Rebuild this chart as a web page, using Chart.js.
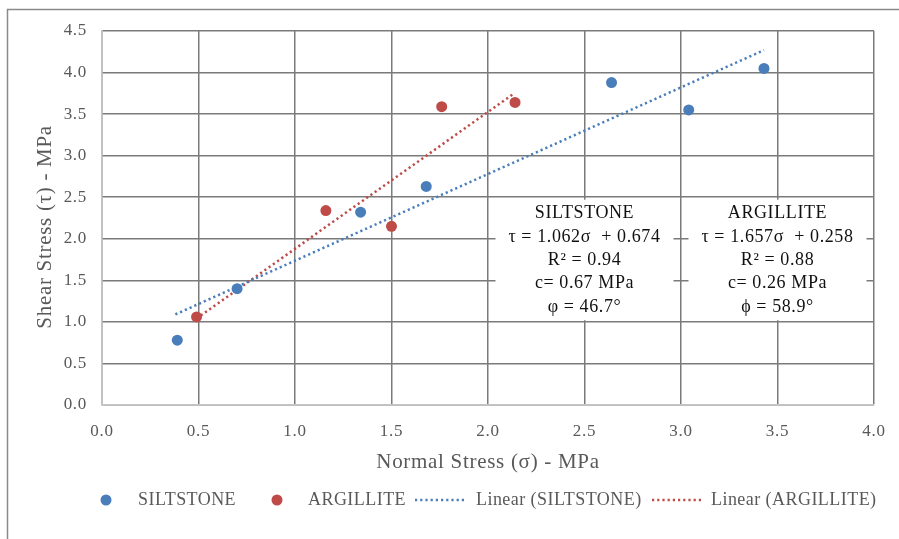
<!DOCTYPE html>
<html>
<head>
<meta charset="utf-8">
<script src="https://cdn.jsdelivr.net/npm/chart.js@4/dist/chart.umd.min.js"></script>
<style>
  html, body { margin: 0; padding: 0; background: #fff; }
  #wrap { width: 899px; height: 539px; position: relative; }
</style>
</head>
<body>
<div id="wrap"><canvas id="c" width="899" height="539"></canvas></div>
<script>
// ---- data ----
const siltX = [0.39, 0.70, 1.34, 1.68, 2.64, 3.04, 3.43];
const siltY = [0.78, 1.40, 2.32, 2.63, 3.88, 3.55, 4.05];
const argX = [0.49, 1.16, 1.50, 1.76, 2.14];
const argY = [1.06, 2.34, 2.15, 3.59, 3.64];
const trendSiltX = [0.38, 3.43];
const trendSiltY = [1.09, 4.27];
const trendArgX = [0.49, 2.13];
const trendArgY = [1.04, 3.74];
const seriesNames = ['SILTSTONE', 'ARGILLITE', 'Linear (SILTSTONE)', 'Linear (ARGILLITE)'];
const siltNote = ['SILTSTONE', 'τ = 1.062σ  + 0.674', 'R² = 0.94', 'c= 0.67 MPa', 'φ = 46.7°'];
const argNote = ['ARGILLITE', 'τ = 1.657σ  + 0.258', 'R² = 0.88', 'c= 0.26 MPa', 'ϕ = 58.9°'];
const xTicks = [0, 0.5, 1.0, 1.5, 2.0, 2.5, 3.0, 3.5, 4.0];
const yTicks = [0, 0.5, 1.0, 1.5, 2.0, 2.5, 3.0, 3.5, 4.0, 4.5];
const xTitle = 'Normal Stress (σ) - MPa';
const yTitle = 'Shear Stress (τ) - MPa';

const BLUE = '#4a7ebb';
const RED = '#be4b48';
const GRID = '#7a7a7a';
const SERIF = '"Liberation Serif", "DejaVu Serif", serif';
const zip = (xs, ys) => xs.map((x, i) => ({ x, y: ys[i] }));

const spacingPlugin = {
  id: 'spacing',
  beforeUpdate(chart) { chart.ctx.letterSpacing = '0.7px'; },
  beforeDraw(chart) { chart.ctx.letterSpacing = '0.7px'; }
};

const framePlugin = {
  id: 'frame',
  beforeDraw(chart) {
    const ctx = chart.ctx;
    ctx.save();
    ctx.fillStyle = '#fff';
    ctx.fillRect(0, 0, chart.width, chart.height);
    ctx.strokeStyle = '#8a8a8a';
    ctx.lineWidth = 1.5;
    ctx.strokeRect(7.5, 9.5, 1000, 1000);
    ctx.restore();
  }
};

function drawNote(chart, lines, cx) {
  const { ctx, scales: { x, y } } = chart;
  const px = x.getPixelForValue(cx);
  const top = y.getPixelForValue(2.47);
  const bottom = y.getPixelForValue(1.02);
  ctx.save();
  ctx.fillStyle = '#fff';
  ctx.fillRect(px - 89, top, 178, bottom - top);
  ctx.fillStyle = '#111';
  ctx.font = '18px ' + SERIF;
  ctx.textAlign = 'center';
  ctx.textBaseline = 'middle';
  ctx.letterSpacing = '0.6px';
  lines.forEach((t, i) => ctx.fillText(t, px, top + 14 + i * 23.3));
  ctx.restore();
}

const notePlugin = {
  id: 'notes',
  beforeDatasetsDraw(chart) {
    drawNote(chart, siltNote, 2.5);
    drawNote(chart, argNote, 3.5);
  }
};

const legendPlugin = {
  id: 'customLegend',
  afterDraw(chart) {
    const ctx = chart.ctx;
    const ds = chart.data.datasets;
    const yc = 500;
    ctx.save();
    ctx.font = '18px ' + SERIF;
    ctx.letterSpacing = '0.45px';
    ctx.textBaseline = 'middle';
    const items = [
      { kind: 'dot', x0: 106, tx: 138 },
      { kind: 'dot', x0: 277, tx: 308 },
      { kind: 'line', x0: 415, x1: 467, tx: 476 },
      { kind: 'line', x0: 652, x1: 703, tx: 711 }
    ];
    items.forEach((it, i) => {
      const d = ds[i];
      if (it.kind === 'dot') {
        ctx.beginPath();
        ctx.arc(it.x0, yc, 5.5, 0, Math.PI * 2);
        ctx.fillStyle = d.backgroundColor;
        ctx.fill();
      } else {
        ctx.beginPath();
        ctx.setLineDash(d.borderDash);
        ctx.lineWidth = d.borderWidth;
        ctx.strokeStyle = d.borderColor;
        ctx.moveTo(it.x0, yc);
        ctx.lineTo(it.x1, yc);
        ctx.stroke();
        ctx.setLineDash([]);
      }
      ctx.fillStyle = '#595959';
      ctx.fillText(d.label, it.tx, yc);
    });
    ctx.restore();
  }
};

new Chart(document.getElementById('c'), {
  type: 'scatter',
  data: {
    datasets: [
      { label: seriesNames[0], data: zip(siltX, siltY), backgroundColor: BLUE, borderColor: BLUE,
        pointRadius: 5.5, pointBorderWidth: 0, showLine: false, order: 1 },
      { label: seriesNames[1], data: zip(argX, argY), backgroundColor: RED, borderColor: RED,
        pointRadius: 5.5, pointBorderWidth: 0, showLine: false, order: 1 },
      { label: seriesNames[2], data: zip(trendSiltX, trendSiltY), borderColor: BLUE, backgroundColor: BLUE,
        showLine: true, pointRadius: 0, borderWidth: 2.5, borderDash: [2.2, 3], order: 2 },
      { label: seriesNames[3], data: zip(trendArgX, trendArgY), borderColor: RED, backgroundColor: RED,
        showLine: true, pointRadius: 0, borderWidth: 2.5, borderDash: [2.2, 3], order: 2 }
    ]
  },
  options: {
    responsive: false,
    animation: false,
    layout: { padding: { top: 31, right: 25, left: 0, bottom: 0 } },
    plugins: { legend: { display: false }, tooltip: { enabled: false } },
    scales: {
      x: {
        type: 'linear', min: 0, max: 4,
        afterBuildTicks: s => { s.ticks = xTicks.map(v => ({ value: v })); },
        afterFit: s => { s.height = 134; s.paddingRight = 0; s.paddingLeft = 0; },
        ticks: { callback: v => Number(v).toFixed(1), color: '#595959', padding: 16,
                 font: { family: SERIF, size: 17 }, maxRotation: 0 },
        grid: { drawTicks: false, lineWidth: 1.5, color: GRID },
        border: { color: '#c4c4c4', width: 1.5 },
        title: { display: true, text: xTitle, color: '#595959',
                 font: { family: SERIF, size: 21 }, padding: { top: 0, bottom: 64 } }
      },
      y: {
        type: 'linear', min: 0, max: 4.5,
        afterBuildTicks: s => { s.ticks = yTicks.map(v => ({ value: v })); },
        afterFit: s => { s.width = 102; },
        ticks: { callback: v => Number(v).toFixed(1), color: '#595959', padding: 15,
                 font: { family: SERIF, size: 17 } },
        grid: { drawTicks: false, lineWidth: 1.5, color: GRID },
        border: { color: '#c4c4c4', width: 1.5 },
        title: { display: true, text: yTitle + '\u00A0\u00A0\u00A0', color: '#595959',
                 font: { family: SERIF, size: 21 }, padding: { top: 33, bottom: 0 } }
      }
    }
  },
  plugins: [spacingPlugin, framePlugin, notePlugin, legendPlugin]
});
</script>
</body>
</html>
